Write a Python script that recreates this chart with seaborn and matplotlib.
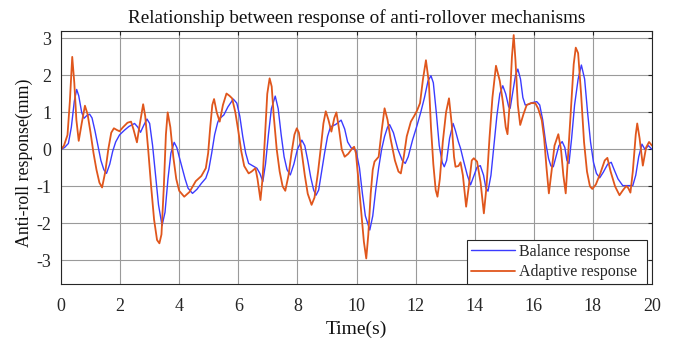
import numpy as np
import pandas as pd
import matplotlib
matplotlib.use("Agg")
import matplotlib.pyplot as plt
import seaborn as sns

# ---- data ----
adaptive_t = [0.0, 0.1, 0.22, 0.3, 0.38, 0.45, 0.52, 0.6, 0.7, 0.81, 0.9, 1.0, 1.1, 1.2, 1.3, 1.39, 1.5, 1.6, 1.7, 1.79,
              1.9, 1.98, 2.1, 2.25, 2.37, 2.45, 2.57, 2.65, 2.78, 2.85, 2.95, 3.05, 3.15, 3.25, 3.33, 3.4, 3.48, 3.55, 3.61,
              3.7, 3.8, 3.9, 4.0, 4.17, 4.35, 4.56, 4.75, 4.9, 4.98, 5.05, 5.12, 5.18, 5.27, 5.37, 5.48, 5.6, 5.7, 5.79,
              5.9, 6.0, 6.1, 6.2, 6.35, 6.45, 6.58, 6.65, 6.75, 6.82, 6.9, 6.98, 7.06, 7.13, 7.2, 7.3, 7.4, 7.5, 7.59,
              7.7, 7.8, 7.9, 7.98, 8.05, 8.15, 8.25, 8.35, 8.48, 8.58, 8.7, 8.8, 8.88, 8.96, 9.05, 9.15, 9.25, 9.32,
              9.4, 9.5, 9.6, 9.72, 9.85, 9.92, 9.98, 10.05, 10.15, 10.25, 10.33, 10.4, 10.48, 10.55, 10.61, 10.75,
              10.85, 10.95, 11.05, 11.15, 11.3, 11.42, 11.5, 11.6, 11.7, 11.84, 11.95, 12.05, 12.15, 12.25, 12.35,
              12.45, 12.52, 12.6, 12.68, 12.74, 12.82, 12.92, 13.03, 13.13, 13.22, 13.3, 13.35, 13.45, 13.52, 13.6,
              13.71, 13.8, 13.9, 13.97, 14.08, 14.2, 14.31, 14.4, 14.5, 14.6, 14.72, 14.85, 14.95, 15.05, 15.11,
              15.18, 15.26, 15.32, 15.38, 15.46, 15.54, 15.65, 15.76, 15.9, 16.05, 16.15, 16.27, 16.35, 16.43, 16.51,
              16.6, 16.7, 16.83, 16.92, 17.0, 17.08, 17.15, 17.25, 17.35, 17.42, 17.5, 17.6, 17.7, 17.8, 17.9, 17.98,
              18.1, 18.25, 18.4, 18.49, 18.6, 18.75, 18.9, 19.02, 19.13, 19.2, 19.27, 19.35, 19.45, 19.5, 19.58,
              19.69, 19.8, 19.9, 20.0]
adaptive_y = [0.0, 0.1, 0.39, 1.3, 2.5, 1.8, 0.8, 0.23, 0.7, 1.18, 0.95, 0.45, -0.1, -0.55, -0.9, -1.03, -0.6, 0.0, 0.45, 0.57,
              0.52, 0.49, 0.6, 0.72, 0.75, 0.55, 0.19, 0.6, 1.22, 0.9, 0.0, -1.0, -1.9, -2.45, -2.54, -2.3, -1.0, 0.4, 1.0,
              0.6, -0.2, -0.8, -1.12, -1.28, -1.15, -0.86, -0.72, -0.51, -0.1, 0.6, 1.2, 1.36, 1.0, 0.75, 1.2, 1.51, 1.45, 1.38,
              1.0, 0.5, -0.05, -0.45, -0.65, -0.6, -0.51, -0.8, -1.37, -0.8, 0.3, 1.5, 1.92, 1.7, 0.9, 0.0, -0.6, -1.0, -1.12,
              -0.7, -0.1, 0.4, 0.57, 0.45, -0.1, -0.7, -1.2, -1.5, -1.3, -0.6, 0.1, 0.7, 1.03, 0.8, 0.48, 0.85, 1.0,
              0.6, 0.0, -0.2, -0.12, 0.02, 0.07, -0.1, -0.7, -1.6, -2.5, -2.95, -2.3, -1.2, -0.55, -0.33, -0.2,
              0.5, 1.11, 0.8, 0.3, -0.3, -0.6, -0.65, -0.2, 0.35, 0.75, 0.9, 1.05, 1.25, 1.9, 2.41,
              1.8, 0.6, -0.4, -1.1, -1.28, -0.8, 0.2, 1.0, 1.38, 0.7, -0.2, -0.47, -0.45, -0.35, -0.7,
              -1.55, -1.0, -0.3, -0.24, -0.33, -0.9, -1.73, -1.0, 0.3, 1.4, 2.26, 1.85, 1.3, 0.6, 0.41,
              1.2, 2.5, 3.09, 2.4, 1.2, 0.66, 0.95, 1.2, 1.25, 1.25, 1.1, 0.79, 0.3, -0.5, -1.19,
              -0.6, 0.1, 0.41, 0.0, -0.7, -1.19, -0.3, 1.0, 2.3, 2.75, 2.6, 1.5, 0.2, -0.6, -1.0, -1.07,
              -0.95, -0.65, -0.3, -0.23, -0.6, -1.0, -1.24, -1.1, -0.99, -1.05, -1.17, -0.6, 0.4, 0.7, 0.3,
              -0.44, 0.05, 0.2, 0.1]

balance_t = [0.0, 0.12, 0.25, 0.35, 0.45, 0.53, 0.6, 0.7, 0.78, 0.88, 0.97, 1.05, 1.15, 1.25, 1.35, 1.45, 1.54, 1.65, 1.75,
             1.85, 1.98, 2.15, 2.3, 2.49, 2.6, 2.69, 2.8, 2.91, 3.0, 3.1, 3.2, 3.3, 3.42, 3.52, 3.62, 3.72, 3.83, 3.92,
             4.0, 4.1, 4.2, 4.3, 4.45, 4.6, 4.75, 4.9, 5.0, 5.1, 5.2, 5.3, 5.35, 5.51, 5.65, 5.83, 5.95, 6.05, 6.15,
             6.25, 6.35, 6.5, 6.63, 6.73, 6.83, 6.92, 7.02, 7.12, 7.25, 7.35, 7.45, 7.55, 7.65, 7.76, 7.88, 8.0, 8.15,
             8.25, 8.35, 8.45, 8.55, 8.63, 8.72, 8.82, 8.92, 9.02, 9.12, 9.29, 9.48, 9.6, 9.7, 9.82, 9.98, 10.1, 10.2,
             10.3, 10.45, 10.55, 10.65, 10.75, 10.85, 10.95, 11.05, 11.12, 11.25, 11.4, 11.55, 11.65, 11.75, 11.9,
             12.05, 12.18, 12.3, 12.42, 12.52, 12.6, 12.7, 12.8, 12.9, 12.97, 13.05, 13.15, 13.27, 13.35, 13.45,
             13.52, 13.62, 13.75, 13.86, 13.98, 14.08, 14.19, 14.3, 14.38, 14.45, 14.55, 14.65, 14.75, 14.85, 14.95,
             15.05, 15.15, 15.2, 15.3, 15.38, 15.46, 15.55, 15.63, 15.71, 15.85, 15.93, 16.1, 16.2, 16.3, 16.4, 16.5,
             16.58, 16.66, 16.75, 16.85, 16.96, 17.05, 17.12, 17.19, 17.28, 17.38, 17.5, 17.61, 17.72, 17.82, 17.92,
             18.02, 18.12, 18.23, 18.35, 18.5, 18.62, 18.72, 18.85, 19.01, 19.18, 19.35, 19.45, 19.55, 19.66, 19.76,
             19.88, 20.0]
balance_y = [0.0, 0.05, 0.16, 0.6, 1.3, 1.62, 1.45, 1.0, 0.84, 0.92, 0.95, 0.85, 0.5, 0.1, -0.3, -0.55, -0.65, -0.4, -0.05,
             0.2, 0.39, 0.52, 0.62, 0.70, 0.6, 0.46, 0.65, 0.82, 0.7, 0.1, -0.7, -1.5, -2.06, -1.7, -0.8, -0.1, 0.19, 0.05,
             -0.2, -0.5, -0.8, -1.05, -1.19, -1.08, -0.92, -0.78, -0.55, -0.1, 0.4, 0.72, 0.82, 0.93, 1.15, 1.36, 1.25, 0.9, 0.35,
             -0.1, -0.38, -0.45, -0.51, -0.65, -0.87, -0.4, 0.4, 1.1, 1.44, 1.1, 0.4, -0.2, -0.55, -0.69, -0.4, 0.0, 0.25,
             0.1, -0.3, -0.75, -1.1, -1.24, -1.1, -0.6, -0.1, 0.35, 0.61, 0.67, 0.79, 0.55, 0.2, 0.04, -0.02, -0.5, -1.2,
             -1.8, -2.18, -1.8, -1.1, -0.5, 0.0, 0.35, 0.6, 0.67, 0.45, 0.0, -0.3, -0.38, -0.2, 0.26,
             0.65, 1.02, 1.4, 1.85, 1.99, 1.8, 1.0, 0.1, -0.35, -0.47, -0.3, 0.3, 0.70, 0.5, 0.2,
             0.03, -0.3, -0.7, -0.96, -0.7, -0.48, -0.44, -0.7, -1.05, -1.13, -0.7, 0.1, 0.9, 1.5, 1.72,
             1.5, 1.15, 1.11, 1.6, 2.0, 2.17, 1.9, 1.4, 1.2, 1.22, 1.26, 1.29, 1.2, 0.8, 0.2, -0.25,
             -0.45, -0.47, -0.2, 0.1, 0.21, 0.05, -0.3, -0.38, 0.3, 1.2, 1.9, 2.28, 1.9, 1.0, 0.2,
             -0.35, -0.65, -0.77, -0.62, -0.4, -0.35, -0.55, -0.8, -0.98, -0.98, -0.98, -0.7, -0.2, 0.14, 0.0,
             0.1, 0.0]

x_ticks = [0, 2, 4, 6, 8, 10, 12, 14, 16, 18, 20]
y_ticks = [-3, -2, -1, 0, 1, 2, 3]

title = "Relationship between response of anti-rollover mechanisms"
xlabel = "Time(s)"
ylabel = "Anti-roll response(mm)"
label_balance = "Balance response"
label_adaptive = "Adaptive response"

# ---- plotting ----
sns.set_style("white")
plt.rcParams["font.family"] = ["Liberation Serif", "DejaVu Serif"]

W, H = 677, 338
L, R, T, B = 61, 652, 31, 284
fig = plt.figure(figsize=(W / 100, H / 100), dpi=100)
ax = fig.add_axes([L / W, 1 - B / H, (R - L) / W, (B - T) / H])

df_b = pd.DataFrame({"t": balance_t, "y": balance_y})
df_a = pd.DataFrame({"t": adaptive_t, "y": adaptive_y})

sns.lineplot(data=df_b, x="t", y="y", ax=ax, color="#3b3bff", lw=1.0, label=label_balance, sort=False)
sns.lineplot(data=df_a, x="t", y="y", ax=ax, color="#e0561c", lw=1.3, label=label_adaptive, sort=False)

ax.set_xlim(0, 20)
ax.set_ylim(-3.64, 3.2)
ax.set_xticks(x_ticks)
ax.set_yticks(y_ticks)
ax.set_xticklabels([str(v) for v in x_ticks])
ax.set_yticklabels([str(v) for v in y_ticks])
ax.grid(True, color="#9a9a9a", lw=0.8)
ax.tick_params(direction="in", top=True, right=True, length=3, labelsize=13, colors="#262626")
ax.tick_params(axis="x", pad=10)
ax.tick_params(axis="y", pad=7)
for s in ax.spines.values():
    s.set_color("#262626")
    s.set_linewidth(0.8)

ax.set_title(title, fontsize=13.8, color="#111111", pad=6)
ax.set_xlabel(xlabel, fontsize=14, color="#111111", labelpad=4)
ax.set_ylabel(ylabel, fontsize=12.8, color="#111111")
ax.yaxis.set_label_coords((33 - L) / (R - L), 0.48)

lx0 = (467 - L) / (R - L)
lw_ = (647 - 467) / (R - L)
lh = (284 - 239) / (B - T)
leg = ax.legend(loc="lower left", bbox_to_anchor=(lx0, 0.0, lw_, lh), mode="expand",
                fontsize=11.5, frameon=True, fancybox=False, borderaxespad=0.0,
                handlelength=2.8, handletextpad=0.25, borderpad=0.22, labelspacing=0.3)
leg.get_frame().set_edgecolor("#262626")
leg.get_frame().set_linewidth(0.8)
leg.get_frame().set_alpha(1.0)

fig.savefig("out.png", dpi=100)
